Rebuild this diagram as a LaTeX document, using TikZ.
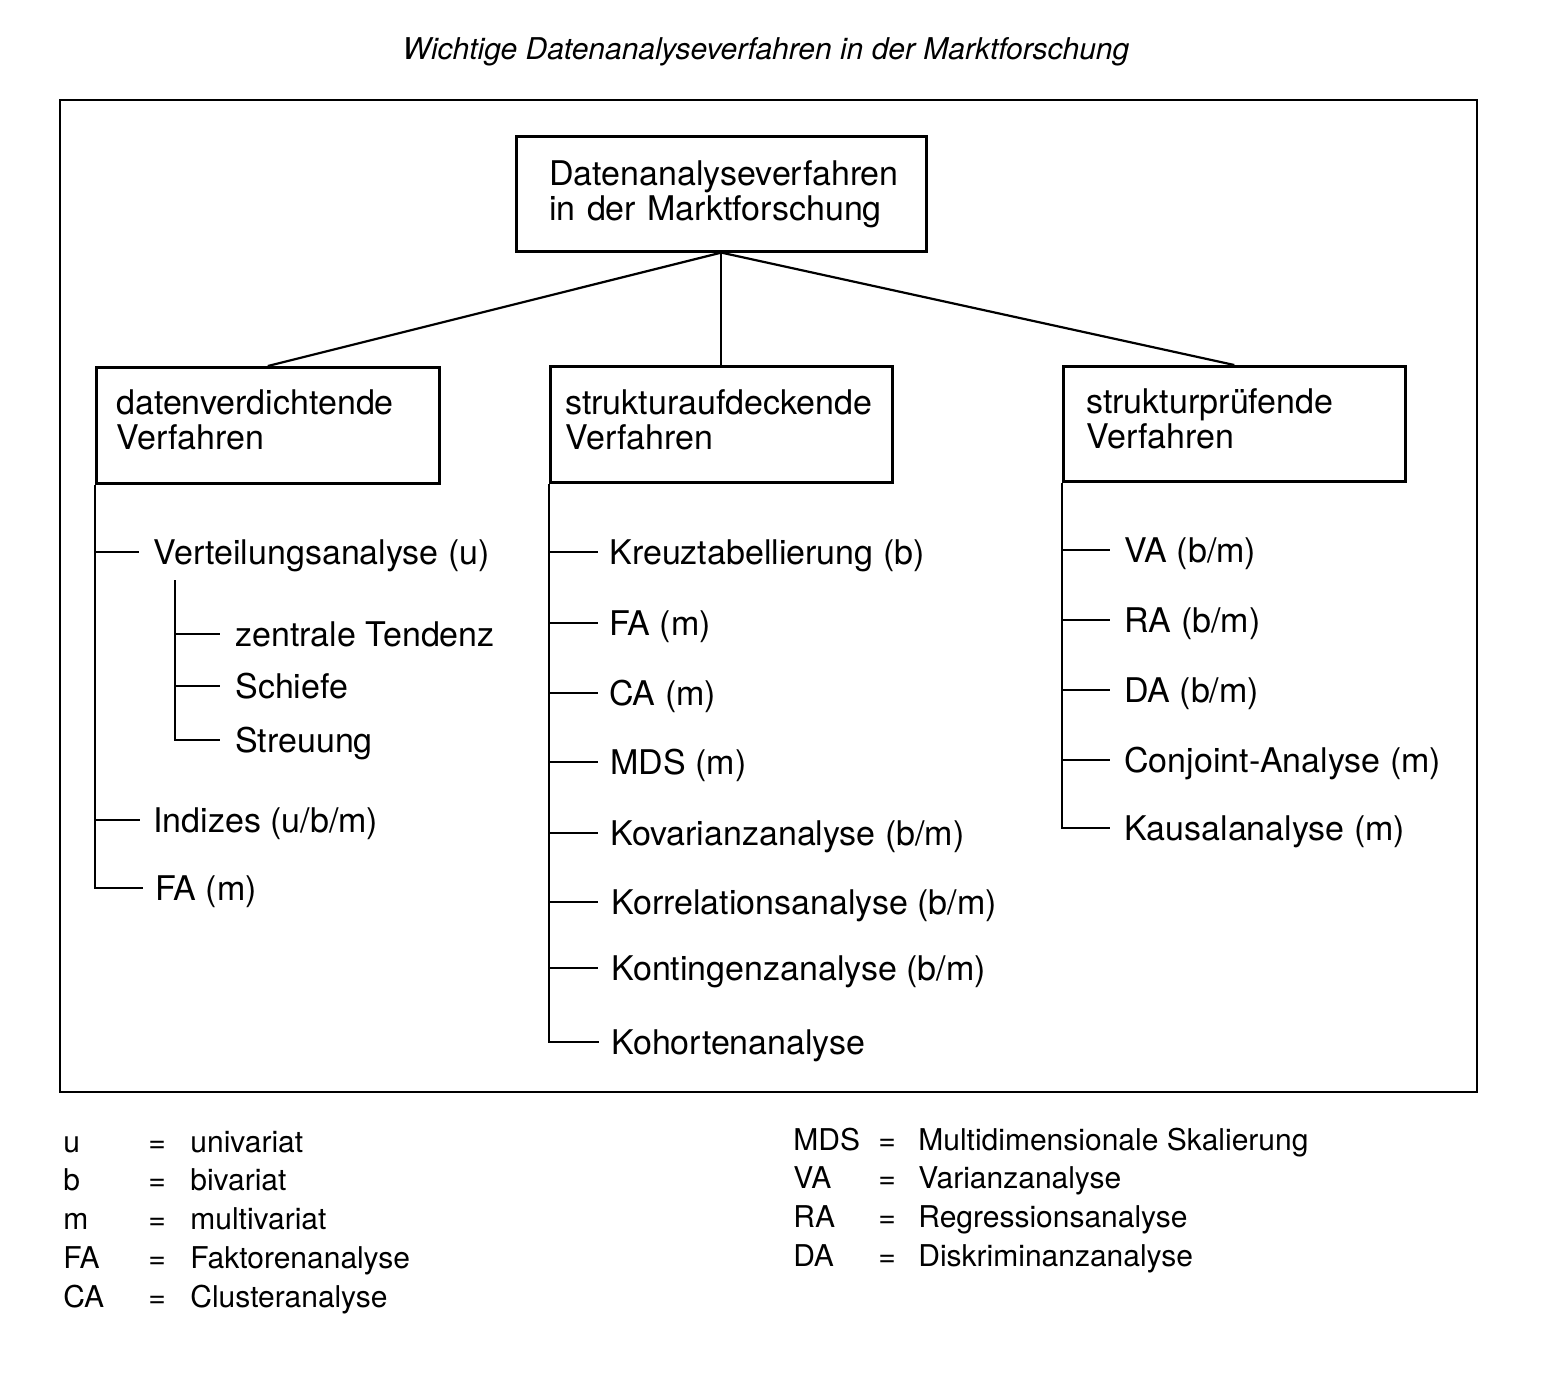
\documentclass[tikz,border=0pt]{standalone}
\usepackage{fontspec}
\setmainfont{TeX Gyre Heros}
\hyphenpenalty=10000
\exhyphenpenalty=10000

\tikzset{
  box/.style={draw, line width=1.3pt, anchor=north west, align=left, inner ysep=0pt,
    font=\fontsize{17}{17.5}\selectfont},
  item/.style={anchor=west, inner sep=0pt, text height=12pt, text depth=0pt,
    font=\fontsize{17}{17.5}\selectfont},
  legend/.style={anchor=base west, inner sep=0pt, font=\fontsize{15}{19.4}\selectfont},
  link/.style={line width=1.1pt},
  branch/.style={line width=1.1pt},
}

\begin{document}
\begin{tikzpicture}[x=0.5pt, y=-0.5pt]
      \useasboundingbox (0,0) rectangle (1558,1378);
      \node[anchor=base, inner sep=0pt, font=\fontsize{15}{18}\selectfont\itshape] (title)
        at (766,59) {Wichtige Datenanalyseverfahren in der Marktforschung};
      \draw[line width=1.4pt] (60,100) rectangle (1477,1092);
      % boxes
      \node[box, minimum height=57.5pt, inner xsep=16.5pt, text width=172pt] (root)
        at (515,135) {Datenanalyseverfahren\\in der Marktforschung};
      \node[box, minimum height=58pt, inner xsep=10pt, text width=151.5pt] (dv)
        at (95,366) {datenverdichtende\\Verfahren\strut};
      \node[box, minimum height=58pt, inner xsep=7.5pt, text width=156pt] (sa)
        at (549,365) {strukturaufdeckende\\Verfahren\strut};
      \node[box, minimum height=57.5pt, inner xsep=11.5pt, text width=148pt] (sp)
        at (1062,365) {strukturprüfende\\Verfahren\strut};
      \draw[link] (root.south) -- (dv.north);
      \draw[link] (root.south) -- (sa.north);
      \draw[link] (root.south) -- (sp.north);
      % datenverdichtende Verfahren
      \node[item] (vert) at (153,552) {Verteilungsanalyse (u)};
      \node[item] (zent) at (235,634) {zentrale Tendenz};
      \node[item] (schief) at (235,686) {Schiefe};
      \node[item] (streu) at (235,740) {Streuung};
      \node[item] (ind) at (153,820) {Indizes (u/b/m)};
      \node[item] (dvfa) at (155,888) {FA (m)};
      \coordinate (sub) at ([xshift=11pt,yshift=-14pt]vert.west);
      \begin{scope}[branch]
        \draw (dv.south west) |- ([xshift=-6pt]dvfa.west);
        \draw (dv.south west |- vert.west) -- ([xshift=-7pt]vert.west);
        \draw (dv.south west |- ind.west) -- ([xshift=-6.5pt]ind.west);
        \draw (sub) |- ([xshift=-7.5pt]streu.west);
        \draw (sub |- zent.west) -- ([xshift=-7.5pt]zent.west);
        \draw (sub |- schief.west) -- ([xshift=-7.5pt]schief.west);
      \end{scope}
      % strukturaufdeckende Verfahren
      \node[item] (kreuz) at (609,552) {Kreuztabellierung (b)};
      \node[item] (safa) at (609,623) {FA (m)};
      \node[item] (saca) at (609,693) {CA (m)};
      \node[item] (mds) at (610,762) {MDS (m)};
      \node[item] (kov) at (610,833) {Kovarianzanalyse (b/m)};
      \node[item] (korr) at (611,902) {Korrelationsanalyse (b/m)};
      \node[item] (kont) at (611,968) {Kontingenzanalyse (b/m)};
      \node[item] (koh) at (611,1042) {Kohortenanalyse};
      \begin{scope}[branch]
        \draw (sa.south west) |- ([xshift=-6pt]koh.west);
        \draw (sa.south west |- kreuz.west) -- ([xshift=-5.5pt]kreuz.west);
        \draw (sa.south west |- safa.west) -- ([xshift=-5.5pt]safa.west);
        \draw (sa.south west |- saca.west) -- ([xshift=-5.5pt]saca.west);
        \draw (sa.south west |- mds.west) -- ([xshift=-6pt]mds.west);
        \draw (sa.south west |- kov.west) -- ([xshift=-6pt]kov.west);
        \draw (sa.south west |- korr.west) -- ([xshift=-6.5pt]korr.west);
        \draw (sa.south west |- kont.west) -- ([xshift=-6.5pt]kont.west);
      \end{scope}
      % strukturpruefende Verfahren
      \node[item] (va) at (1124,550) {VA (b/m)};
      \node[item] (ra) at (1124,620) {RA (b/m)};
      \node[item] (da) at (1124,690) {DA (b/m)};
      \node[item] (conj) at (1124,760) {Conjoint-Analyse (m)};
      \node[item] (kaus) at (1124,828) {Kausalanalyse (m)};
      \begin{scope}[branch]
        \draw (sp.south west) |- ([xshift=-7pt]kaus.west);
        \draw (sp.south west |- va.west) -- ([xshift=-7pt]va.west);
        \draw (sp.south west |- ra.west) -- ([xshift=-7pt]ra.west);
        \draw (sp.south west |- da.west) -- ([xshift=-7pt]da.west);
        \draw (sp.south west |- conj.west) -- ([xshift=-7pt]conj.west);
      \end{scope}
      % legend
      \node[legend] (legl) at (63,1152) {\begin{tabular}[t]{@{}p{42.5pt}@{}p{21pt}@{}l@{}}
        u & = & univariat\\
        b & = & bivariat\\
        m & = & multivariat\\
        FA & = & Faktorenanalyse\\
        CA & = & Clusteranalyse
      \end{tabular}};
      \node[legend] (legr) at (793,1150) {\begin{tabular}[t]{@{}p{42.5pt}@{}p{20pt}@{}l@{}}
        MDS & = & Multidimensionale Skalierung\\
        VA & = & Varianzanalyse\\
        RA & = & Regressionsanalyse\\
        DA & = & Diskriminanzanalyse
      \end{tabular}};
    \end{tikzpicture}
\end{document}
